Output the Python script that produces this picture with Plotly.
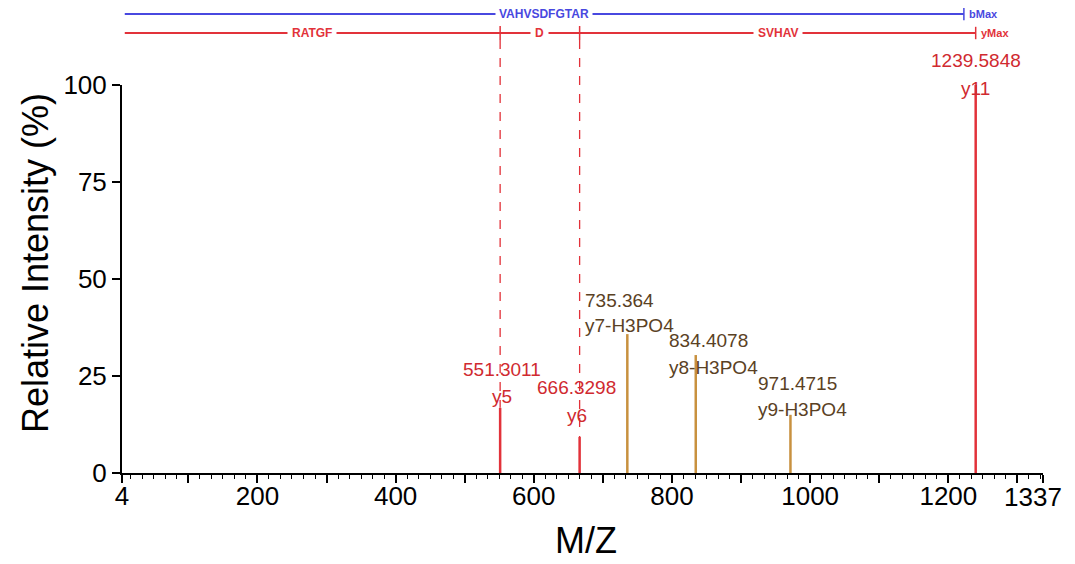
import plotly.graph_objects as go

# ---- data ----
peak_mz = [551.3011, 666.3298, 735.364, 834.4078, 971.4715, 1239.5848]
peak_int = [16.8, 9.3, 35.8, 30.4, 15.0, 100.0]
peak_ion = ["y5", "y6", "y7-H3PO4", "y8-H3PO4", "y9-H3PO4", "y11"]
peak_val = ["551.3011", "666.3298", "735.364", "834.4078", "971.4715", "1239.5848"]
peak_kind = ["y", "y", "loss", "loss", "loss", "y"]

x_min, x_max = 4, 1337
y_min, y_max = 0, 100
x_ticks = [4, 100, 200, 300, 400, 500, 600, 700, 800, 900, 1000, 1100, 1200, 1300, 1337]
x_ticktext = ["4", "", "200", "", "400", "", "600", "", "800", "", "1000", "", "1200", "", ""]
x_end_label = "1337"
y_ticks = [0, 25, 50, 75, 100]

seq_start = 8
b_max = 1222.5
b_label = "VAHVSDFGTAR"
y_bounds = [seq_start, 551.3011, 666.3298, 1239.5848]
y_seg_labels = ["RATGF", "D", "SVHAV"]
y_marks = [551.3011, 666.3298]

# ---- style ----
RED_PEAK = "#e2323a"
RED_TXT = "#d02a30"
BRN_PEAK = "#c8913f"
BRN_TXT = "#5a4124"
BLUE = "#4848e0"
FONT = "Arial, Liberation Sans, sans-serif"

# per-peak label offsets (pixels): (ion yshift, value yshift, xanchor, xshift)
label_style = [
    (11, 38, "center", 2),
    (21, 49, "center", -3),
    (9, 34, "left", -44),
    (-12, 15, "left", -29),
    (5, 31, "left", -34),
    (-3, 25, "center", 0),
]

def ypaper(v):
    return (v - y_min) / (y_max - y_min)

fig = go.Figure()

for kind, color in (("y", RED_PEAK), ("loss", BRN_PEAK)):
    xs, ys = [], []
    for mz, it, k in zip(peak_mz, peak_int, peak_kind):
        if k == kind:
            xs += [mz, mz, None]
            ys += [0, it, None]
    fig.add_trace(go.Scatter(x=xs, y=ys, mode="lines",
                             line=dict(color=color, width=2.5),
                             hoverinfo="skip", showlegend=False))

annotations = []
for mz, it, ion, val, k, st in zip(peak_mz, peak_int, peak_ion, peak_val, peak_kind, label_style):
    col = RED_TXT if k == "y" else BRN_TXT
    ys_ion, ys_val, xa, xs = st
    for txt, ysh in ((ion, ys_ion), (val, ys_val)):
        annotations.append(dict(x=mz, y=it, xref="x", yref="y", text=txt,
                                showarrow=False, xanchor=xa, yanchor="middle",
                                xshift=xs, yshift=ysh,
                                font=dict(family=FONT, size=19, color=col)))

# sequence coverage lines above the plot
BLUE_Y = 1.183
RED_Y = 1.134
shapes = []
shapes.append(dict(type="line", xref="x", yref="paper", x0=seq_start, x1=b_max,
                   y0=BLUE_Y, y1=BLUE_Y, line=dict(color=BLUE, width=1.8)))
shapes.append(dict(type="line", xref="x", yref="paper", x0=b_max, x1=b_max,
                   y0=BLUE_Y - 0.016, y1=BLUE_Y + 0.016, line=dict(color=BLUE, width=1.5)))
shapes.append(dict(type="line", xref="x", yref="paper", x0=y_bounds[0], x1=y_bounds[-1],
                   y0=RED_Y, y1=RED_Y, line=dict(color=RED_PEAK, width=1.8)))
shapes.append(dict(type="line", xref="x", yref="paper", x0=y_bounds[-1], x1=y_bounds[-1],
                   y0=RED_Y - 0.016, y1=RED_Y + 0.016, line=dict(color=RED_PEAK, width=1.5)))
for mz in y_marks:
    it = peak_int[peak_mz.index(mz)]
    shapes.append(dict(type="line", xref="x", yref="paper", x0=mz, x1=mz,
                       y0=RED_Y - 0.018, y1=RED_Y + 0.018, line=dict(color=RED_PEAK, width=1.5)))
    shapes.append(dict(type="line", xref="x", yref="paper", x0=mz, x1=mz,
                       y0=RED_Y - 0.018, y1=ypaper(it), line=dict(color=RED_PEAK, width=1.3, dash="dash")))

annotations.append(dict(x=(seq_start + b_max) / 2, y=BLUE_Y, xref="x", yref="paper",
                        text="<b>" + b_label + "</b>", showarrow=False, bgcolor="white", borderpad=3,
                        xanchor="center", yanchor="middle",
                        font=dict(family=FONT, size=12, color=BLUE)))
annotations.append(dict(x=b_max, y=BLUE_Y, xref="x", yref="paper", text="<b>bMax</b>",
                        showarrow=False, xanchor="left", yanchor="middle", xshift=3,
                        font=dict(family=FONT, size=11, color=BLUE)))
for a, b, lab in zip(y_bounds[:-1], y_bounds[1:], y_seg_labels):
    annotations.append(dict(x=(a + b) / 2, y=RED_Y, xref="x", yref="paper",
                            text="<b>" + lab + "</b>", showarrow=False, bgcolor="white", borderpad=4,
                            xanchor="center", yanchor="middle",
                            font=dict(family=FONT, size=12, color=RED_PEAK)))
annotations.append(dict(x=y_bounds[-1], y=RED_Y, xref="x", yref="paper", text="<b>yMax</b>",
                        showarrow=False, xanchor="left", yanchor="middle", xshift=3,
                        font=dict(family=FONT, size=11, color=RED_PEAK)))

# end-of-axis tick label, nudged left as in the reference
annotations.append(dict(x=x_max, y=0, xref="x", yref="paper", text=x_end_label,
                        showarrow=False, xanchor="center", yanchor="middle",
                        xshift=-10, yshift=-24,
                        font=dict(family=FONT, size=26, color="black")))

# axis titles
annotations.append(dict(x=-0.0945, y=0.541, xref="paper", yref="paper",
                        text="Relative Intensity (%)", textangle=-90, showarrow=False,
                        xanchor="center", yanchor="middle",
                        font=dict(family=FONT, size=36, color="black")))
annotations.append(dict(x=0.504, y=-0.173, xref="paper", yref="paper",
                        text="M/Z", showarrow=False, xanchor="center", yanchor="middle",
                        font=dict(family=FONT, size=36, color="black")))

# the page body adds an 8px offset, so the figure is 8px smaller with margins reduced to match
fig.update_layout(
    width=1067, height=556,
    margin=dict(l=114, r=32, t=77, b=91, autoexpand=False),
    paper_bgcolor="white", plot_bgcolor="white",
    font=dict(family=FONT, color="black"),
    shapes=shapes, annotations=annotations,
    xaxis=dict(range=[x_min, x_max], tickmode="array", tickvals=x_ticks, ticktext=x_ticktext,
               automargin=False,
               showgrid=False, zeroline=False, showline=True, linecolor="black", linewidth=2,
               ticks="outside", ticklen=8, tickwidth=1.5, tickcolor="black",
               tickfont=dict(size=26), ticklabelstandoff=-9,
               minor=dict(tickmode="linear", tick0=0, dtick=100 / 6, ticks="outside",
                          ticklen=4, tickwidth=1, tickcolor="black", showgrid=False)),
    yaxis=dict(range=[y_min, y_max], tickmode="array", tickvals=y_ticks,
               automargin=False,
               showgrid=False, zeroline=False, showline=True, linecolor="black", linewidth=2,
               ticks="outside", ticklen=8, tickwidth=1.5, tickcolor="black",
               tickfont=dict(size=26)),
)

fig.write_html("out.html")
